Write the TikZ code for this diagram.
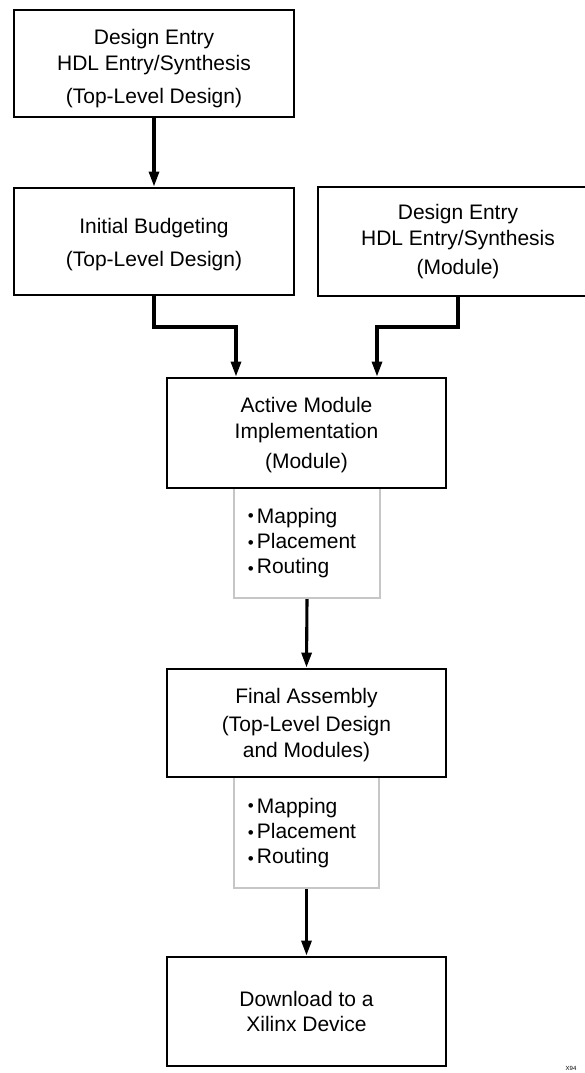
\documentclass[tikz,border=0pt]{standalone}
\usepackage{fontspec}
\setmainfont{Liberation Sans}
\usetikzlibrary{arrows.meta}
\newcommand\bul[1]{\raisebox{#1}{\fontsize{17}{17}\selectfont\textbullet}\hspace{3pt}}
\newcommand\tsh[1]{\rule{0pt}{#1}}
\begin{document}
\begin{tikzpicture}[x=1pt,y=-1pt,
  box/.style={draw,line width=2.9pt,rectangle,align=center,inner sep=0pt,
     font=\fontsize{21}{26}\selectfont},
  graybox/.style={draw=gray!45,line width=2.3pt,rectangle,inner sep=0pt},
  bullets/.style={align=left,inner sep=0pt,font=\fontsize{21}{25}\selectfont},
  arr/.style={line width=3.1pt,-{Triangle[length=15pt,width=10pt]}}]
\clip (0,0) rectangle (585,1073);
\fill[white] (0,0) rectangle (585,1073);
% boxes
\node[box,minimum width=280,minimum height=107] (b1) at (154,63.5)
  {\tsh{25pt}Design Entry\\HDL Entry/Synthesis\\[7pt](Top-Level Design)};
\node[box,minimum width=280,minimum height=107] (b2) at (154,241.5)
  {\tsh{20.5pt}Initial Budgeting\\[7pt](Top-Level Design)};
\node[box,minimum width=280,minimum height=109] (b3) at (458,241.5)
  {Design Entry\\HDL Entry/Synthesis\\[3pt](Module)};
\node[graybox,minimum width=146,minimum height=110] (g1) at (307,543) {};
\node[bullets] (t1) at (302,543) {\bul{1.8pt}Mapping\\\bul{0.3pt}Placement\\\bul{-1.5pt}Routing};
\node[box,minimum width=279,minimum height=110] (act) at (306.5,433)
  {\tsh{19.5pt}Active Module\\Implementation\\[4pt](Module)};
\node[graybox,minimum width=145,minimum height=111] (g2) at (306.5,832.5) {};
\node[bullets] (t2) at (302,833) {\bul{1.8pt}Mapping\\\bul{0.3pt}Placement\\\bul{-1.5pt}Routing};
\node[box,minimum width=279,minimum height=108] (fin) at (306.5,723)
  {\tsh{19pt}Final Assembly\\[2pt](Top-Level Design\\and Modules)};
\node[box,minimum width=279,minimum height=109] (dl) at (306.5,1011.5)
  {Download to a\\[-1pt]Xilinx Device};
\node[font=\fontsize{6}{6}\selectfont,inner sep=0pt] (lbl) at (571,1068) {X94};
% connectors
\coordinate (j1) at (236,327);
\coordinate (j2) at (377,327);
\draw[arr] (b1.south) -- (b2.north);
\draw[arr] (b2.south) |- (j1) -- (j1 |- act.north);
\draw[arr] (b3.south) |- (j2) -- (j2 |- act.north);
\draw[arr] (g1.south) -- (fin.north);
\draw[arr] (g2.south) -- (dl.north);
\end{tikzpicture}
\end{document}
